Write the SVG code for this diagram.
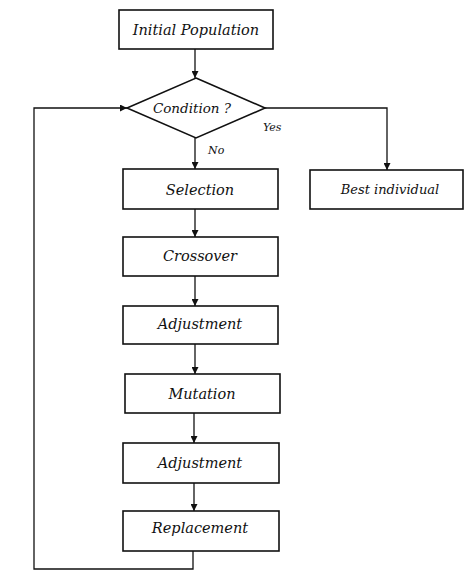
<svg xmlns="http://www.w3.org/2000/svg" width="474" height="573" viewBox="0 0 474 573">
<style>
.box{fill:#fff;stroke:#111;stroke-width:1.6}
.lbl{font-family:"DejaVu Serif","Liberation Serif",serif;font-style:italic;font-size:14.5px;fill:#111;text-anchor:middle;dominant-baseline:central}
.sm{font-family:"DejaVu Serif","Liberation Serif",serif;font-style:italic;font-size:11px;fill:#111}
.ln{fill:none;stroke:#111;stroke-width:1.3}
</style>
<defs>
<marker id="ah" viewBox="0 0 10 10" refX="10" refY="5" markerWidth="7" markerHeight="7" orient="auto" markerUnits="userSpaceOnUse">
<path d="M0,0 L10,5 L0,10 z" fill="#111"/>
</marker>
</defs>
<rect width="474" height="573" fill="#fff"/>
<g id="connectors">
<line class="ln" x1="195" y1="49" x2="195" y2="78" marker-end="url(#ah)"/>
<line class="ln" x1="195" y1="138" x2="195" y2="169" marker-end="url(#ah)"/>
<polyline class="ln" points="265,108 387,108 387,170" marker-end="url(#ah)"/>
<line class="ln" x1="195" y1="209" x2="195" y2="237" marker-end="url(#ah)"/>
<line class="ln" x1="195" y1="276" x2="195" y2="306" marker-end="url(#ah)"/>
<line class="ln" x1="195" y1="344" x2="195" y2="374" marker-end="url(#ah)"/>
<line class="ln" x1="194" y1="413" x2="194" y2="443" marker-end="url(#ah)"/>
<line class="ln" x1="194" y1="483" x2="194" y2="511" marker-end="url(#ah)"/>
<polyline class="ln" points="193,551 193,569 34,569 34,108 127,108" marker-end="url(#ah)"/>
<text class="sm" x="263" y="131">Yes</text>
<text class="sm" x="208" y="154">No</text>
</g>
<g id="initial">
<rect class="box" x="119" y="10" width="154" height="39"/>
<text class="lbl" x="196" y="30">Initial Population</text>
</g>
<g id="condition">
<polygon class="box" points="196,78 265,108 196,138 127,108"/>
<text class="lbl" x="192" y="108" style="font-size:13.5px">Condition ?</text>
</g>
<g id="best">
<rect class="box" x="310" y="170" width="153" height="39"/>
<text class="lbl" x="390" y="189" style="font-size:13px">Best individual</text>
</g>
<g id="selection">
<rect class="box" x="123" y="169" width="155" height="40"/>
<text class="lbl" x="200" y="190">Selection</text>
</g>
<g id="crossover">
<rect class="box" x="123" y="237" width="155" height="39"/>
<text class="lbl" x="200" y="256">Crossover</text>
</g>
<g id="adjustment1">
<rect class="box" x="123" y="306" width="155" height="38"/>
<text class="lbl" x="200" y="324">Adjustment</text>
</g>
<g id="mutation">
<rect class="box" x="125" y="374" width="155" height="39"/>
<text class="lbl" x="202" y="394">Mutation</text>
</g>
<g id="adjustment2">
<rect class="box" x="123" y="443" width="156" height="40"/>
<text class="lbl" x="200" y="463">Adjustment</text>
</g>
<g id="replacement">
<rect class="box" x="123" y="511" width="156" height="40"/>
<text class="lbl" x="200" y="528">Replacement</text>
</g>
</svg>
